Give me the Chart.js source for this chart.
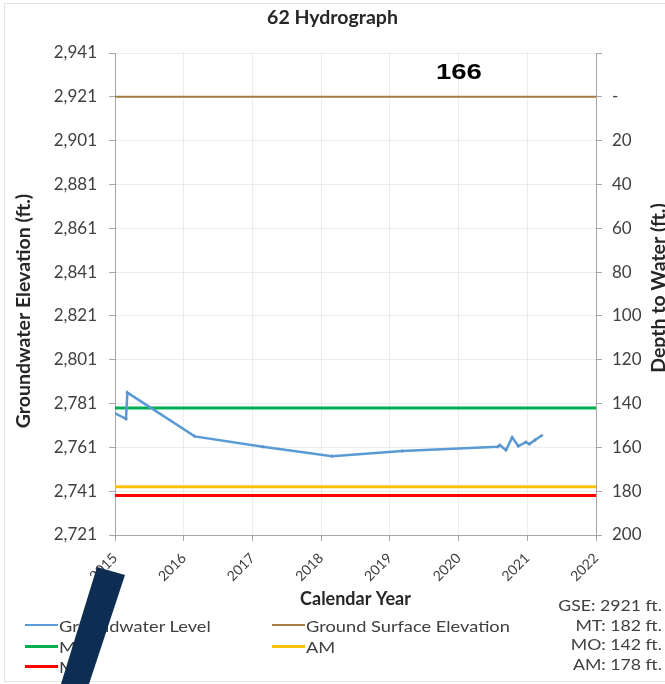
<!DOCTYPE html>
<html>
<head>
<meta charset="utf-8">
<script src="https://cdn.jsdelivr.net/npm/chart.js@4.4.0/dist/chart.umd.min.js"></script>
<style>
  html, body { margin: 0; padding: 0; background: #fff; }
  #wrap { position: relative; width: 665px; height: 684px; overflow: hidden; font-family: Lato, sans-serif; }
  #frame { position: absolute; left: 4px; top: 3px; width: 700px; height: 679px; border: 1px solid #e4e4e4; box-sizing: border-box; }
  #myChart { position: absolute; left: 0; top: 0; }
  #legend { position: absolute; left: 25px; top: 615px; display: grid; grid-template-columns: 247px 230px; }
  .item { display: flex; align-items: center; height: 20.7px; font-size: 16px; color: #404040; white-space: nowrap; }
  .swatch { width: 33px; margin-right: 1px; }
  .label { display: inline-block; transform: scaleX(1.14); transform-origin: left center; }
  #notes { position: absolute; right: 3px; top: 596px; text-align: right; font-size: 14.5px; line-height: 19.7px; color: #404040;
           transform: scaleX(1.22); transform-origin: right top; }
  #well { position: absolute; left: 436px; top: 59px; font: bold 22px "Liberation Sans", Arial, sans-serif; color: #000;
          transform: scaleX(1.25); transform-origin: left top; }
  #bar { position: absolute; left: 0; top: 0; width: 665px; height: 684px; background: #0d2d52;
         clip-path: polygon(97px 567px, 125px 575px, 89px 684px, 61px 684px); }
</style>
</head>
<body>
<div id="wrap">
  <div id="frame"></div>
  <canvas id="myChart" width="665" height="684"></canvas>
  <div id="well">166</div>
  <div id="legend"></div>
  <div id="notes"></div>
  <div id="bar"></div>
</div>
<script>
// groundwater level readings (decimal year, elevation ft)
var gwYears = [2015.0, 2015.16, 2015.18, 2016.16, 2017.15, 2018.16, 2019.18, 2020.57,
               2020.60, 2020.69, 2020.78, 2020.87, 2020.98, 2021.03, 2021.11, 2021.21];
var gwLevels = [2776.5, 2774, 2786, 2766, 2761.3, 2757, 2759.3, 2761.3,
                2762, 2759.8, 2765.5, 2761.6, 2763.4, 2762.5, 2764.3, 2766.4];

// well reference values
var gse = 2921;      // ground surface elevation
var mtDepth = 182;   // minimum threshold depth
var moDepth = 142;   // measurable objective depth
var amDepth = 178;   // action level depth

// axis ticks
var yearTicks = [2015, 2016, 2017, 2018, 2019, 2020, 2021, 2022];
var elevTicks = [2721, 2741, 2761, 2781, 2801, 2821, 2841, 2861, 2881, 2901, 2921, 2941];
var depthTicks = [-20, 0, 20, 40, 60, 80, 100, 120, 140, 160, 180, 200];

var xMin = yearTicks[0], xMax = yearTicks[yearTicks.length - 1];
var yMin = elevTicks[0], yMax = elevTicks[elevTicks.length - 1];

function flatLine(level) {
  return [{x: xMin, y: level}, {x: xMax, y: level}];
}

var gwData = gwYears.map(function (yr, i) { return {x: yr, y: gwLevels[i]}; });

var gridColor = 'rgba(0,0,0,0.07)';
var axisColor = '#a6a6a6';
var tickFont = {family: 'Lato', size: 17};
var titleFont = {family: 'Lato', size: 18, weight: 'bold'};

// both y axis titles read bottom-to-top; drawn here so they can sit off-centre
function sideTitle(ctx, text, x, y) {
  ctx.save();
  ctx.translate(x, y);
  ctx.rotate(-Math.PI / 2);
  ctx.font = 'bold 19.5px Lato';
  ctx.fillStyle = '#262626';
  ctx.textAlign = 'center';
  ctx.textBaseline = 'middle';
  ctx.fillText(text, 0, 0);
  ctx.restore();
}

var axisTitles = {
  id: 'axisTitles',
  afterDraw: function (chart) {
    var a = chart.chartArea;
    var mid = (a.top + a.bottom) / 2;
    sideTitle(chart.ctx, 'Groundwater Elevation (ft.)', a.left - 91, mid + 17);
    sideTitle(chart.ctx, 'Depth to Water (ft.)', a.right + 63, mid - 6);
  }
};

var ctx = document.getElementById('myChart');
var myChart = new Chart(ctx, {
  type: 'line',
  data: {
    datasets: [
      {
        label: 'Groundwater Level',
        data: gwData,
        borderColor: '#5b9bd5',
        backgroundColor: '#5b9bd5',
        borderWidth: 2.5,
        pointStyle: 'cross',
        pointRadius: 1.8,
        pointBorderWidth: 1,
        pointBorderColor: '#5b8fc8',
        order: 0
      },
      {
        label: 'Ground Surface Elevation',
        data: flatLine(gse),
        borderColor: '#a47a45',
        borderWidth: 2,
        pointRadius: 0,
        order: 1
      },
      {
        label: 'MO',
        data: flatLine(gse - moDepth),
        borderColor: '#00b050',
        borderWidth: 3,
        pointRadius: 0,
        order: 1
      },
      {
        label: 'AM',
        data: flatLine(gse - amDepth),
        borderColor: '#ffc000',
        borderWidth: 3,
        pointRadius: 0,
        order: 1
      },
      {
        label: 'MT',
        data: flatLine(gse - mtDepth),
        borderColor: '#ff0000',
        borderWidth: 3,
        pointRadius: 0,
        order: 1
      }
    ]
  },
  options: {
    responsive: false,
    animation: false,
    layout: {padding: 0},
    plugins: {
      legend: {display: false},
      tooltip: {enabled: false},
      title: {
        display: true,
        text: '62 Hydrograph',
        color: '#262626',
        font: {family: 'Lato', size: 19.5, weight: 'bold'},
        padding: {top: 6, bottom: 23.6}
      }
    },
    scales: {
      x: {
        type: 'linear',
        min: xMin,
        max: xMax,
        afterBuildTicks: function (s) { s.ticks = yearTicks.map(function (v) { return {value: v}; }); },
        afterFit: function (s) { s.height = 149; },
        ticks: {
          minRotation: 45,
          maxRotation: 45,
          padding: 9,
          color: '#404040',
          font: {family: 'Lato', size: 14},
          callback: function (v) { return String(v); }
        },
        grid: {color: gridColor, tickColor: axisColor, tickLength: 6},
        border: {color: axisColor},
        title: {display: true, text: 'Calendar Year', color: '#262626', font: titleFont, padding: {top: 4, bottom: 74}}
      },
      y: {
        position: 'left',
        min: yMin,
        max: yMax,
        afterBuildTicks: function (s) { s.ticks = elevTicks.map(function (v) { return {value: v}; }); },
        afterFit: function (s) { s.width = 115; },
        ticks: {
          padding: 12,
          color: '#404040',
          font: tickFont,
          callback: function (v) { return v.toLocaleString('en-US'); }
        },
        grid: {color: gridColor, tickColor: axisColor, tickLength: 6},
        border: {color: axisColor}
      },
      y2: {
        position: 'right',
        reverse: true,
        min: gse - yMax,
        max: gse - yMin,
        afterBuildTicks: function (s) { s.ticks = depthTicks.map(function (v) { return {value: v}; }); },
        afterFit: function (s) { s.width = 69; },
        ticks: {
          padding: 10,
          color: '#404040',
          font: tickFont,
          callback: function (v) { return v < 0 ? '' : (v === 0 ? '-' : String(v)); }
        },
        grid: {drawOnChartArea: false, tickColor: axisColor, tickLength: 6},
        border: {color: axisColor}
      }
    }
  },
  plugins: [axisTitles]
});

// legend, two columns, built from the datasets
var legendEl = document.getElementById('legend');
myChart.data.datasets.forEach(function (ds) {
  var item = document.createElement('div');
  item.className = 'item';
  var sw = document.createElement('span');
  sw.className = 'swatch';
  sw.style.height = (ds.borderWidth >= 3 ? 3 : 2) + 'px';
  sw.style.background = ds.borderColor;
  var txt = document.createElement('span');
  txt.className = 'label';
  txt.textContent = ds.label;
  item.appendChild(sw);
  item.appendChild(txt);
  legendEl.appendChild(item);
});

// well reference notes
var notes = [
  'GSE: ' + gse + ' ft.',
  'MT: ' + mtDepth + ' ft.',
  'MO: ' + moDepth + ' ft.',
  'AM: ' + amDepth + ' ft.'
];
document.getElementById('notes').innerHTML = notes.join('<br>');
</script>
</body>
</html>
